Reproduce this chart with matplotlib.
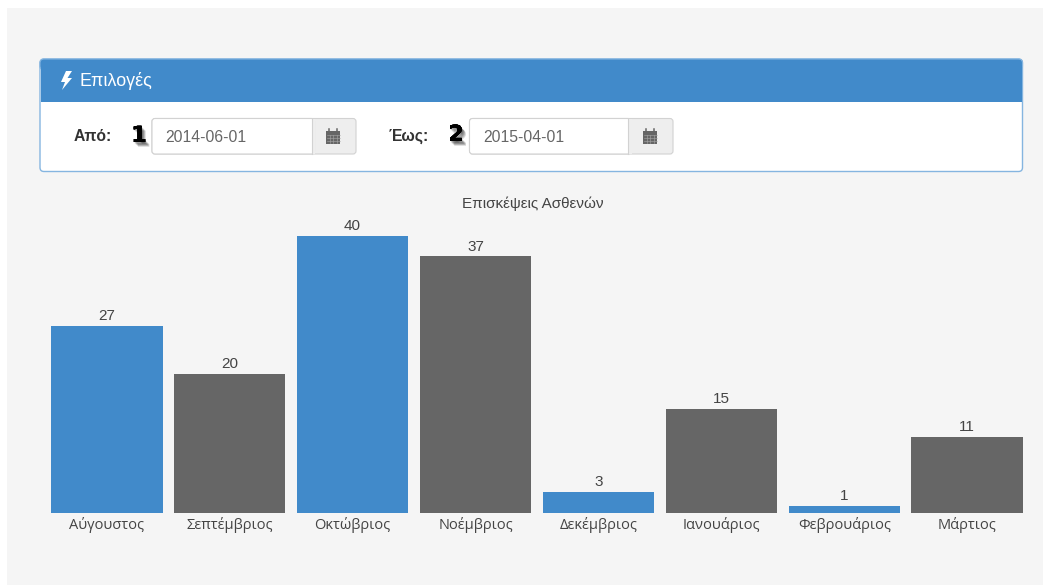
import matplotlib.pyplot as plt
import matplotlib.patheffects as pe
from matplotlib.patches import Rectangle, FancyBboxPatch, Polygon

W, H = 1043, 585

months = ["Αύγουστος", "Σεπτέμβριος", "Οκτώβριος", "Νοέμβριος",
          "Δεκέμβριος", "Ιανουάριος", "Φεβρουάριος", "Μάρτιος"]
visits = [27, 20, 40, 37, 3, 15, 1, 11]

BLUE = "#418aca"
GREY = "#666666"
bar_colors = [BLUE, GREY] * 4

chart_title = "Επισκέψεις Ασθενών"
panel_title = "Επιλογές"
date_from = "2014-06-01"
date_to = "2015-04-01"

plt.rcParams["font.family"] = ["Open Sans", "DejaVu Sans"]

fig = plt.figure(figsize=(W / 100, H / 100), dpi=100, facecolor="white")

# page furniture is laid out in pixels, y going down
ui = fig.add_axes([0, 0, 1, 1])
ui.set_xlim(0, W)
ui.set_ylim(H, 0)
ui.axis("off")


def rounded(x0, y0, x1, y1, r=3, **kw):
    p = FancyBboxPatch((x0 + r, y0 + r), x1 - x0 - 2 * r, y1 - y0 - 2 * r,
                       boxstyle=f"round,pad={r},rounding_size={r}", **kw)
    ui.add_patch(p)
    return p


def calendar_icon(cx, cy):
    ui.add_patch(Rectangle((cx - 7.5, cy - 5), 14, 13, fc="#666666", ec="none"))
    for gx in (cx - 4, cx - 0.5, cx + 3):
        ui.plot([gx, gx], [cy - 1, cy + 7], color="#a8a8a8", lw=0.4)
    for gy in (cy - 1.5, cy + 1.5, cy + 4.5):
        ui.plot([cx - 7, cx + 6], [gy, gy], color="#a8a8a8", lw=0.4)
    ui.plot([cx - 4.5, cx - 4.5], [cy - 7, cy - 5], color="#666666", lw=1.1)
    ui.plot([cx + 3.5, cx + 3.5], [cy - 7, cy - 5], color="#666666", lw=1.1)


def date_field(x0, x_div, x1, y0, y1, value):
    rounded(x0, y0, x1, y1, r=3, fc="#eeeeee", ec="#d2d2d2", lw=0.8)
    rounded(x0, y0, x_div + 3, y1, r=3, fc="white", ec="#d2d2d2", lw=0.8)
    ui.add_patch(Rectangle((x_div, y0 + 0.5), 3.5, y1 - y0 - 1, fc="#eeeeee", ec="none"))
    ui.plot([x_div, x_div], [y0, y1], color="#d2d2d2", lw=0.8)
    ui.text(x0 + 13.5, (y0 + y1) / 2 + 1, value, fontsize=11.3, color="#666666",
            family="Liberation Sans", ha="left", va="center")
    calendar_icon((x_div + x1) / 2, (y0 + y1) / 2)


def step_number(x, y, s):
    # soft drop shadow built from a few faint offset copies
    shadow = [pe.withSimplePatchShadow(offset=(dx, dy), shadow_rgbFace="black", alpha=0.16)
              for dx, dy in [(0.6, -1), (1.2, -1.6), (1.8, -2.2), (2.4, -2.8), (3, -3.4)]]
    ui.text(x, y, s, fontsize=16, fontweight="bold", color="black",
            family="DejaVu Sans", ha="center", va="center",
            path_effects=shadow + [pe.Normal()])


ui.add_patch(Rectangle((7, 8), W - 7, H - 8, fc="#f5f5f5", ec="none"))

# options panel
rounded(40, 59, 1022.5, 171.5, r=4, fc="white", ec="#85b5e0", lw=1)
rounded(40, 59, 1022.5, 70, r=4, fc=BLUE, ec="#85b5e0", lw=0.8)
ui.add_patch(Rectangle((40.5, 65), 981.5, 37, fc=BLUE, ec="none"))

ui.add_patch(Polygon([(66, 71), (61, 82), (65, 82), (62, 90), (72, 78), (67.5, 78), (72, 71)],
                     closed=True, fc="white", ec="none"))
ui.text(79.5, 81.5, panel_title, fontsize=12.9, color="white", family="Liberation Sans",
        ha="left", va="center")

ui.text(92.5, 136.5, "Από:", fontsize=11.3, fontweight="bold", color="#333333",
        family="Liberation Sans", ha="center", va="center")
ui.text(408.5, 136.5, "Έως:", fontsize=11.3, fontweight="bold", color="#333333",
        family="Liberation Sans", ha="center", va="center")
step_number(139, 136, "1")
step_number(456, 135, "2")

date_field(152, 311.5, 356, 118.5, 154, date_from)
date_field(469.5, 628, 673, 118.5, 154, date_to)

# bar chart
left, right, base, top = 45.3, 1028.7, 513, 235.5
ax = fig.add_axes([left / W, 1 - base / H, (right - left) / W, (base - top) / H])
ax.patch.set_alpha(0)
bars = ax.bar(range(len(months)), visits, width=0.907, color=bar_colors)
ax.set_xlim(-0.5, len(months) - 0.5)
ax.set_ylim(0, 40)
ax.set_yticks([])
ax.set_xticks(range(len(months)), months)
ax.tick_params(axis="x", length=0, pad=3, labelsize=10.5, labelcolor="#444444")
for side in ax.spines.values():
    side.set_visible(False)
ax.bar_label(bars, padding=2, fontsize=11, color="#444444", family="Liberation Sans")
ax.text(0.4955, 1.113, chart_title, transform=ax.transAxes, fontsize=11, color="#444444",
        family="Liberation Sans", ha="center", va="center")

fig.savefig("out.png", dpi=100, facecolor=fig.get_facecolor())
